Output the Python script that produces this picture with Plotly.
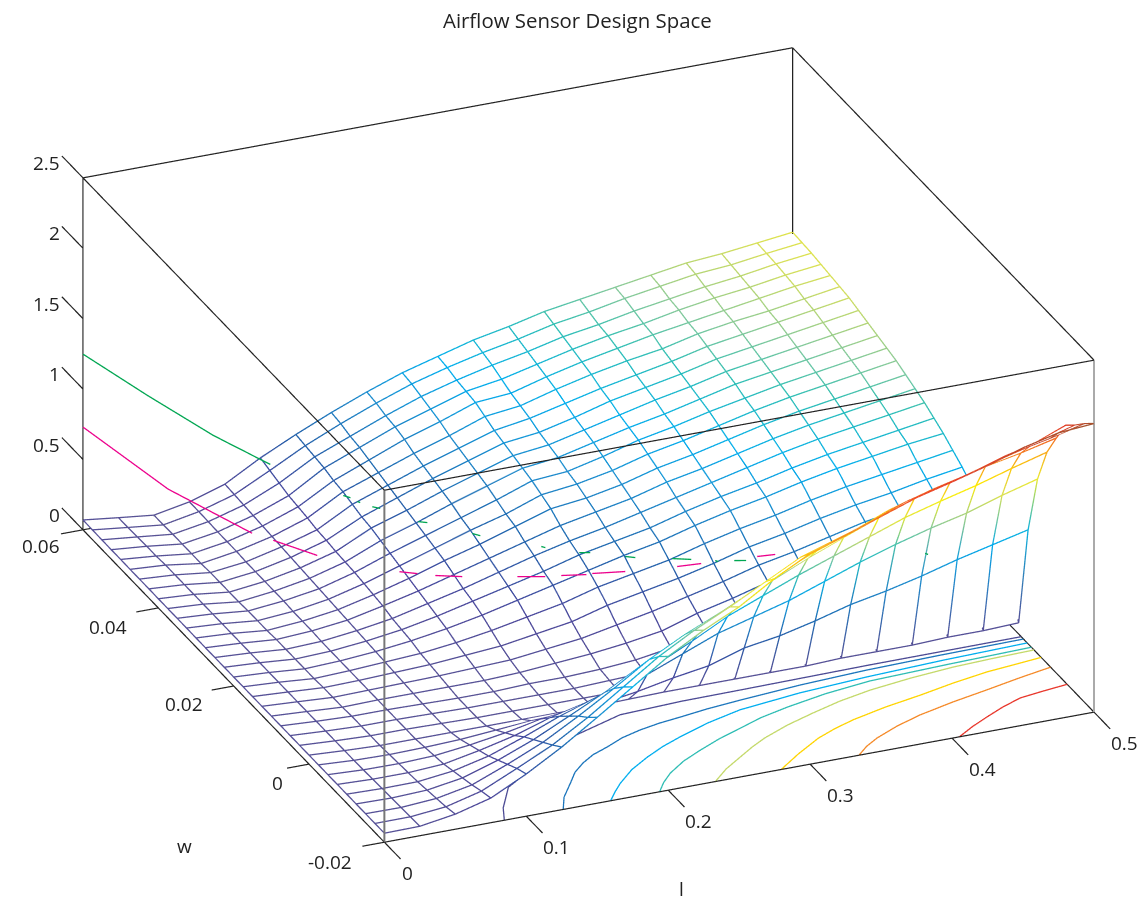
import plotly.graph_objects as go

# grid of the mesh
l_vals = [0, .025, .05, .075, .1, .125, .15, .175, .2, .225, .25, .275, .3, .325, .35, .375, .4, .425, .45, .475, .5]
w_vals = [-.02, -.0175, -.015, -.0125, -.01, -.0075, -.005, -.0025, 0, .0025, .005, .0075, .01, .0125, .015, .0175,
          .02, .0225, .025, .0275, .03, .0325, .035, .0375, .04, .0425, .045, .0475, .05, .0525, .055, .0575, .06]

# z: one list per l value, running along w
z_by_l = [
 [.064,.064,.064,.064,.064,.064,.064,.064,.064,.064,.064,.064,.064,.064,.064,.064,.064,.064,.064,.064,.064,.065,.065,.065,.065,.066,.066,.066,.067,.067,.068,.069,.07],
 [.067,.065,.062,.06,.058,.055,.052,.05,.05,.05,.05,.05,.05,.05,.05,.05,.05,.05,.05,.05,.05,.05,.05,.05,.05,.05,.05,.05,.045,.045,.042,.04,.04],
 [.107,.09,.08,.07,.06,.055,.05,.045,.04,.04,.04,.04,.035,.035,.035,.03,.03,.03,.03,.03,.025,.025,.025,.02,.02,.02,.02,.015,.015,.015,.015,.012,.012],
 [.175,.155,.13,.11,.09,.07,.06,.05,.04,.04,.04,.04,.04,.04,.04,.04,.04,.04,.04,.045,.045,.045,.05,.05,.05,.05,.05,.055,.055,.055,.058,.06,.06],
 [.30,.27,.23,.19,.15,.12,.09,.06,.04,.035,.035,.035,.04,.045,.05,.055,.06,.065,.07,.075,.08,.085,.09,.095,.10,.105,.11,.115,.12,.125,.13,.135,.14],
 [.445,.39,.34,.29,.24,.18,.13,.08,.04,.03,.03,.03,.04,.05,.06,.07,.09,.10,.11,.13,.14,.15,.16,.165,.17,.18,.185,.20,.21,.22,.24,.26,.28],
 [.61,.54,.48,.41,.34,.26,.18,.10,.04,.03,.03,.03,.04,.06,.08,.10,.13,.15,.17,.19,.21,.23,.25,.27,.29,.30,.32,.34,.35,.37,.38,.39,.40],
 [.78,.71,.63,.53,.42,.32,.21,.11,.04,.03,.03,.04,.05,.07,.10,.14,.18,.21,.23,.26,.29,.31,.33,.35,.37,.39,.41,.43,.45,.47,.48,.50,.51],
 [.95,.88,.79,.67,.53,.40,.27,.13,.04,.03,.03,.04,.07,.10,.14,.19,.24,.27,.30,.33,.36,.39,.41,.44,.46,.48,.50,.52,.55,.57,.58,.60,.61],
 [1.09,1.02,.92,.79,.65,.50,.36,.17,.045,.03,.04,.05,.09,.13,.18,.24,.30,.33,.37,.40,.44,.46,.49,.52,.54,.56,.58,.60,.63,.65,.67,.69,.70],
 [1.21,1.14,1.03,.90,.77,.62,.46,.22,.05,.04,.05,.07,.12,.18,.25,.31,.36,.40,.43,.47,.52,.55,.58,.60,.62,.64,.66,.69,.72,.73,.74,.76,.77],
 [1.365,1.27,1.15,1.02,.89,.75,.56,.26,.05,.06,.08,.11,.16,.23,.30,.36,.42,.45,.48,.52,.55,.58,.60,.63,.65,.67,.70,.72,.74,.77,.80,.82,.84],
 [1.496,1.40,1.28,1.161,1.028,.85,.63,.34,.05,.09,.14,.19,.24,.29,.35,.41,.47,.50,.54,.57,.60,.63,.66,.69,.71,.73,.76,.79,.81,.83,.85,.87,.89],
 [1.578,1.48,1.369,1.264,1.14,.95,.70,.38,.05,.11,.18,.24,.30,.35,.41,.48,.54,.57,.60,.64,.67,.70,.73,.75,.77,.80,.82,.85,.87,.89,.91,.93,.95],
 [1.667,1.562,1.457,1.353,1.24,1.04,.79,.44,.05,.13,.21,.29,.37,.42,.48,.54,.60,.63,.66,.69,.72,.75,.78,.80,.83,.85,.87,.90,.92,.94,.95,.97,.99],
 [1.755,1.66,1.557,1.455,1.337,1.13,.88,.51,.06,.15,.25,.33,.41,.47,.53,.59,.65,.68,.72,.75,.78,.81,.84,.86,.88,.90,.92,.94,.97,.98,1.0,1.02,1.03],
 [1.82,1.725,1.63,1.525,1.425,1.22,.96,.56,.06,.17,.28,.37,.45,.53,.59,.65,.71,.74,.78,.81,.84,.87,.89,.92,.94,.96,.98,1.0,1.01,1.03,1.04,1.06,1.07],
 [1.89,1.79,1.69,1.59,1.49,1.29,1.03,.62,.06,.19,.31,.41,.50,.59,.64,.70,.76,.79,.83,.86,.89,.92,.94,.96,.98,1.0,1.02,1.04,1.05,1.07,1.08,1.10,1.11],
 [1.97,1.867,1.77,1.665,1.56,1.355,1.09,.69,.07,.21,.34,.45,.54,.63,.68,.74,.80,.83,.87,.90,.93,.96,.98,1.00,1.02,1.04,1.06,1.07,1.09,1.10,1.11,1.12,1.13],
 [2.03,1.92,1.83,1.73,1.61,1.43,1.17,.75,.07,.24,.38,.49,.58,.68,.73,.78,.84,.87,.91,.94,.97,1.0,1.02,1.04,1.06,1.08,1.10,1.11,1.13,1.14,1.15,1.155,1.16],
 [2.05,1.98,1.90,1.83,1.67,1.50,1.24,.81,.08,.28,.42,.53,.62,.71,.77,.82,.87,.91,.95,.98,1.01,1.04,1.06,1.08,1.10,1.12,1.14,1.15,1.16,1.17,1.18,1.185,1.19],
]
assert len(z_by_l) == 21 and all(len(r) == 33 for r in z_by_l)

# floor contours (l, w), one pair per level
contour_colors = ["#4b4a94", "#1b75bc", "#00aeef", "#2ebdb4", "#c4d96a", "#ffd400", "#f58a28", "#e8372c"]
c1_l = [.0845,.0909,.106,.173,.2146,.259,.3008,.3924,.5]
c1_w = [-.02,-.0173,-.013,-.0046,-.0017,-.0012,-.0011,-.0008,-.0007]
c2_l = [.126,.1335,.1454,.1545,.1647,.1755,.1883,.2025,.2179,.233,.2493,.27,.2951,.34,.3884,.44,.5]
c2_w = [-.02,-.0174,-.0146,-.0124,-.0107,-.0093,-.0082,-.0068,-.0058,-.0051,-.0046,-.0039,-.0033,-.0024,-.0018,-.0015,-.0013]
c3_l = [.1595,.1665,.1753,.19,.2065,.222,.2378,.262,.2893,.335,.3843,.44,.5]
c3_w = [-.02,-.0184,-.0166,-.0141,-.012,-.0103,-.0089,-.007,-.0054,-.0041,-.0033,-.0027,-.0023]
c4_l = [.194,.2015,.211,.226,.2422,.26,.2789,.298,.3192,.35,.3838,.44,.5]
c4_w = [-.02,-.0182,-.0164,-.0143,-.0126,-.0109,-.0094,-.0079,-.0067,-.0053,-.0043,-.0038,-.0034]
c5_l = [.2333,.247,.2621,.275,.288,.309,.3312,.354,.3786,.41,.4416,.47,.5]
c5_w = [-.02,-.0177,-.0157,-.014,-.0125,-.0106,-.009,-.0075,-.0063,-.0053,-.0046,-.0043,-.0041]
c6_l = [.2797,.299,.3198,.335,.3511,.378,.4057,.432,.459,.48,.5]
c6_w = [-.02,-.0173,-.0147,-.0133,-.0121,-.0106,-.0094,-.0081,-.007,-.0065,-.006]
c7_l = [.3345,.344,.3551,.374,.3941,.421,.4487,.475,.5]
c7_w = [-.02,-.0184,-.017,-.0152,-.0137,-.0122,-.0109,-.0096,-.0085]
c8_l = [.4053,.419,.4331,.448,.4638,.482,.5]
c8_w = [-.02,-.0183,-.0168,-.0153,-.014,-.0134,-.0129]
contours_l = [c1_l, c2_l, c3_l, c4_l, c5_l, c6_l, c7_l, c8_l]
contours_w = [c1_w, c2_w, c3_w, c4_w, c5_w, c6_w, c7_w, c8_w]

# the green and magenta curves; None marks a break
green_l = [0,0,0,0,None,0,0,None,0,0,None,0,0,None,.0239,.0303,None,.062,.0676,None,.1106,.1134,None,.1373,.1451,None,.1697,.1768,None,.2028,.2162,None,.2331,.2352,None,.2465,.2549,None,.381,.3831]
green_w = [.06,.043,.0254,.0103,None,-.0091,-.011,None,-.0128,-.0136,None,-.0168,-.0189,None,-.02,-.02,None,-.02,-.02,None,-.02,-.02,None,-.02,-.02,None,-.02,-.02,None,-.02,-.02,None,-.02,-.02,None,-.02,-.02,None,-.02,-.02]
green_z = [1.248,1.428,1.63,1.843,None,2.16,2.197,None,2.22,2.235,None,2.294,2.34,None,2.233,2.214,None,2.078,2.052,None,1.896,1.883,None,1.803,1.789,None,1.716,1.695,None,1.64,1.609,None,1.57,1.559,None,1.545,1.53,None,1.348,1.336]
magenta_l = [0,0,0,None,0,0,None,.0106,.0232,None,.0359,.0549,None,.0937,.1134,None,.1246,.1423,None,.1465,.1697,None,.2063,.2232,None,.2627,.2754]
magenta_w = [.06,.0374,.0151,None,.0095,-.0022,None,-.02,-.02,None,-.02,-.02,None,-.02,-.02,None,-.02,-.02,None,-.02,-.02,None,-.02,-.02,None,-.02,-.02]
magenta_z = [.73,.916,1.221,None,1.326,1.543,None,1.902,1.865,None,1.828,1.785,None,1.713,1.677,None,1.664,1.638,None,1.638,1.609,None,1.577,1.567,None,1.544,1.535]

x_ticks = [0, .1, .2, .3, .4, .5]
x_labels = ["0", "0.1", "0.2", "0.3", "0.4", "0.5"]
y_ticks = [-.02, 0, .02, .04, .06]
y_labels = ["-0.02", "0", "0.02", "0.04", "0.06"]
z_ticks = [0, .5, 1, 1.5, 2, 2.5]
z_labels = ["0", "0.5", "1", "1.5", "2", "2.5"]

colorscale = [[0, "#5a5594"], [.1, "#4a469c"], [.2, "#2165ad"], [.3, "#1b8fd0"], [.37, "#00aeef"], [.45, "#2ebfb4"],
              [.5, "#86c99a"], [.56, "#d7df5a"], [.65, "#fff200"], [.75, "#f7941d"], [.87, "#ed3b25"], [1, "#a0522d"]]
FONT = "Open Sans"
INK = "#222"
ZOOM = 1.73
BASE = dict(x=1, y=1.01, z=.508)
DIR = (.349, .83, -.436)
EYE_R = 5
EPS = .005
MESH_W = 2.6
X0, X1, Y0, Y1, Z0, Z1 = 0, .5, -.02, .06, 0, 2.5
# axis ranges stand wider than the box, symmetrically, to make room for the tick marks
XP, YP, ZP = .02, .007, .003
TICK_X_DW, TICK_Y_DL, TICK_Z_DW = .0043, .0155, .0056
ASPECT = dict(x=BASE["x"] * ZOOM * (X1 - X0 + 2 * XP) / (X1 - X0),
              y=BASE["y"] * ZOOM * (Y1 - Y0 + 2 * YP) / (Y1 - Y0),
              z=BASE["z"] * ZOOM * (Z1 - Z0 + 2 * ZP) / (Z1 - Z0))

fig = go.Figure()
# white sheet for hidden lines, pushed a hair along the line of sight
zs_by_w = [[z_by_l[i][j] + DIR[2] * EPS * 2.5 / BASE["z"] for i in range(21)] for j in range(33)]
fig.add_trace(go.Surface(
    x=[v + DIR[0] * EPS * .5 for v in l_vals], y=[v + DIR[1] * EPS * .08 / BASE["y"] for v in w_vals], z=zs_by_w,
    colorscale=[[0, "white"], [1, "white"]], showscale=False, hoverinfo="skip",
    lighting=dict(ambient=1, diffuse=0, specular=0, roughness=1, fresnel=0),
))
line_style = dict(colorscale=colorscale, cmin=0, cmax=2.06, width=MESH_W)
for i, l in enumerate(l_vals):
    fig.add_trace(go.Scatter3d(x=[l] * 33, y=w_vals, z=z_by_l[i], mode="lines", hoverinfo="skip", showlegend=False,
                               line=dict(color=z_by_l[i], **line_style)))
for j, w in enumerate(w_vals):
    zz = [z_by_l[i][j] for i in range(21)]
    fig.add_trace(go.Scatter3d(x=l_vals, y=[w] * 21, z=zz, mode="lines", hoverinfo="skip", showlegend=False,
                               line=dict(color=zz, **line_style)))
for cl, cw, col in zip(contours_l, contours_w, contour_colors):
    fig.add_trace(go.Scatter3d(x=cl, y=cw, z=[.001] * len(cl), mode="lines", hoverinfo="skip", showlegend=False,
                               line=dict(color=col, width=MESH_W)))
fig.add_trace(go.Scatter3d(x=green_l, y=green_w, z=green_z, mode="lines", hoverinfo="skip", showlegend=False,
                           connectgaps=False, line=dict(color="#00a651", width=MESH_W)))
fig.add_trace(go.Scatter3d(x=magenta_l, y=magenta_w, z=magenta_z, mode="lines", hoverinfo="skip", showlegend=False,
                           connectgaps=False, line=dict(color="#ec008c", width=MESH_W)))

# the box
box_x = [X0, X1, None, X0, X1, None, X0, X1, None, X0, X1, None, X0, X0, None, X1, X1, None, X0, X0, None, X1, X1, None, X0, X0, None, X1, X1]
box_y = [Y0, Y0, None, Y1, Y1, None, Y0, Y0, None, Y1, Y1, None, Y0, Y1, None, Y0, Y1, None, Y0, Y1, None, Y0, Y1, None, Y1, Y1, None, Y1, Y1]
box_z = [Z0, Z0, None, Z0, Z0, None, Z1, Z1, None, Z1, Z1, None, Z0, Z0, None, Z0, Z0, None, Z1, Z1, None, Z1, Z1, None, Z0, Z1, None, Z0, Z1]
fig.add_trace(go.Scatter3d(x=box_x, y=box_y, z=box_z, mode="lines", hoverinfo="skip", showlegend=False,
                           connectgaps=False, line=dict(color=INK, width=2.4)))
fig.add_trace(go.Scatter3d(x=[X0, X0], y=[Y0, Y0], z=[Z0, Z1], mode="lines", hoverinfo="skip", showlegend=False,
                           line=dict(color="#777", width=4)))
fig.add_trace(go.Scatter3d(x=[X1, X1], y=[Y0, Y0], z=[Z0, Z1], mode="lines", hoverinfo="skip", showlegend=False,
                           line=dict(color="#aaa", width=4)))

# tick marks
tx, ty, tz = [], [], []
for v in x_ticks:
    tx += [v, v, None]; ty += [Y0, Y0 - TICK_X_DW, None]; tz += [Z0, Z0, None]
for v in y_ticks:
    tx += [X0, X0 - TICK_Y_DL, None]; ty += [v, v, None]; tz += [Z0, Z0, None]
for v in z_ticks:
    tx += [X0, X0, None]; ty += [Y1, Y1 + TICK_Z_DW, None]; tz += [v, v, None]
fig.add_trace(go.Scatter3d(x=tx, y=ty, z=tz, mode="lines", hoverinfo="skip", showlegend=False, connectgaps=False,
                           line=dict(color=INK, width=2.4)))


def axis(lo, hi, pad):
    return dict(range=[lo - pad, hi + pad], showticklabels=False, title=dict(text=""), showgrid=False, zeroline=False,
                showbackground=False, showline=False, mirror=False, ticks="", showspikes=False)


def label(x, y, z, text, xanchor, xshift, yshift):
    return dict(x=x, y=y, z=z, text=text, showarrow=False, xanchor=xanchor, yanchor="middle", xshift=xshift,
                yshift=yshift, font=dict(family=FONT, size=19, color=INK))


y_xshift = [-30, -24, -29, -29, -21]
y_yshift = [-20, -19, -18, -19, -16]
labels = []
for v, t in zip(x_ticks, x_labels):
    labels.append(label(v, Y0, Z0, t, "center", 30 if v else 23, -31))
for v, t, xs, ys in zip(y_ticks, y_labels, y_xshift, y_yshift):
    labels.append(label(X0, v, Z0, t, "right", xs, ys))
for v, t in zip(z_ticks, z_labels):
    labels.append(label(X0, Y1, v, t, "right", -21, 15))

fig.update_layout(
    width=1146, height=901, margin=dict(l=0, r=0, t=0, b=0), paper_bgcolor="white", showlegend=False,
    scene=dict(
        domain=dict(x=[.027, 1], y=[.012, 1]),
        xaxis=axis(X0, X1, XP),
        yaxis=axis(Y0, Y1, YP),
        zaxis=axis(Z0, Z1, ZP),
        aspectmode="manual", aspectratio=ASPECT,
        camera=dict(projection=dict(type="orthographic"), center=dict(x=0, y=0, z=0), up=dict(x=0, y=0, z=1),
                    eye=dict(x=-.349 * EYE_R, y=-.83 * EYE_R, z=.436 * EYE_R)),
        annotations=labels,
    ),
    annotations=[
        dict(text="Airflow Sensor Design Space", xref="paper", yref="paper", x=577 / 1146, y=1 - 20 / 901,
             xanchor="center", yanchor="middle", showarrow=False, font=dict(family=FONT, size=20.4, color=INK)),
        dict(text="l", xref="paper", yref="paper", x=681 / 1146, y=1 - 889 / 901, xanchor="center", yanchor="middle",
             showarrow=False, font=dict(family=FONT, size=19, color=INK)),
        dict(text="w", xref="paper", yref="paper", x=184 / 1146, y=1 - 846 / 901, xanchor="center", yanchor="middle",
             showarrow=False, font=dict(family=FONT, size=19, color=INK)),
    ],
)
fig.write_html("out.html", post_script="document.body.style.margin='0';", config=dict(displayModeBar=False))
